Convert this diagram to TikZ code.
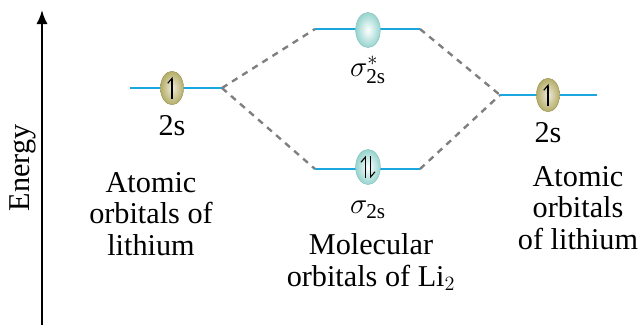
\documentclass[tikz,border=0pt]{standalone}
\usepackage{fontspec}
\setmainfont{Liberation Serif}
\usetikzlibrary{arrows.meta,shapes.geometric}
\definecolor{levelblue}{HTML}{1AA7E0}
\definecolor{aocol}{HTML}{B5AD68}
\definecolor{mocol}{HTML}{96D4CE}
\definecolor{dashgray}{HTML}{7F7F7F}
\tikzset{
  level/.style={levelblue, line width=2.1pt},
  corr/.style={dashgray, line width=1.7pt, dash pattern=on 4.5pt off 4pt},
  aoorb/.style={ellipse, minimum width=0.58cm, minimum height=0.84cm, inner sep=0pt,
    inner color=aocol!25!white, outer color=aocol, draw=aocol!85!black, line width=0.3pt},
  moorb/.style={ellipse, minimum width=0.62cm, minimum height=0.88cm, inner sep=0pt,
    inner color=white, outer color=mocol, draw=mocol!90!black, line width=0.3pt},
  spin/.style={line width=0.8pt, -{Straight Barb[left,length=3.5pt,width=6pt]}},
  lbl/.style={font=\fontsize{21.5}{22.5}\selectfont, align=center, inner sep=0pt},
}
\begin{document}
\begin{tikzpicture}[x=0.025cm, y=-0.025cm]
    \useasboundingbox (0,0) rectangle (639,325);

    % energy axis
    \coordinate (axbot) at (42,325);
    \coordinate (axtop) at (42,10);
    \draw[line width=1.5pt, -{Latex[length=10pt,width=8pt]}] (axbot) -- (axtop);
    \node[lbl, rotate=90] (energy) at (23,168) {Energy};

    % level ends
    \coordinate (la) at (130,88);  \coordinate (lb) at (222,88);
    \coordinate (ra) at (500,95);  \coordinate (rb) at (597,95);
    \coordinate (ua) at (315,29);  \coordinate (ub) at (420,29);
    \coordinate (da) at (315,169); \coordinate (db) at (420,169);

    % correlation lines
    \draw[corr] (lb) -- (ua);
    \draw[corr] (lb) -- (da);
    \draw[corr] (ub) -- (ra);
    \draw[corr] (db) -- (ra);

    % levels
    \draw[level] (la) -- (lb);
    \draw[level] (ra) -- (rb);
    \draw[level] (ua) -- (ub);
    \draw[level] (da) -- (db);

    % orbitals
    \node[aoorb] (aoL) at (172,88) {};
    \node[aoorb] (aoR) at (548,95) {};
    \node[moorb] (sigst) at (368,30) {};
    \node[moorb] (sig) at (368,167) {};

    % electrons
    \draw[spin] ([yshift=-0.28cm]aoL.center) -- ([yshift=0.28cm]aoL.center);
    \draw[spin] ([yshift=-0.28cm]aoR.center) -- ([yshift=0.28cm]aoR.center);
    \draw[spin] ([xshift=-0.07cm,yshift=-0.28cm]sig.center) -- ([xshift=-0.07cm,yshift=0.28cm]sig.center);
    \draw[spin] ([xshift=0.07cm,yshift=0.28cm]sig.center) -- ([xshift=0.07cm,yshift=-0.28cm]sig.center);

    % labels
    \node[lbl] (l2s) at (172,126) {2s};
    \node[lbl] (r2s) at (548,133) {2s};
    \node[lbl] (lsigst) at (368,70) {$\sigma^{*}_{\mathrm{2s}}$};
    \node[lbl] (lsig) at (368,210) {$\sigma_{\mathrm{2s}}$};

    \node[lbl] (aoLtxt) at (151,214) {Atomic\\orbitals of\\lithium};
    \node[lbl] (motxt) at (371,262) {Molecular\\orbitals of Li$_2$};
    \node[lbl] (aoRtxt) at (578,208) {Atomic\\orbitals\\of lithium};
\end{tikzpicture}
\end{document}
